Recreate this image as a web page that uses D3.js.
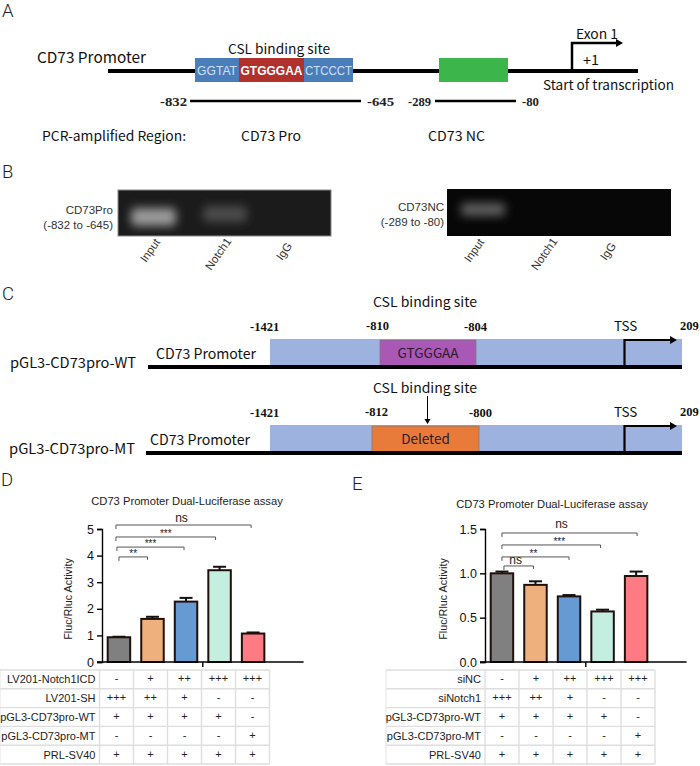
<!DOCTYPE html>
<html><head><meta charset="utf-8">
<script src="https://cdnjs.cloudflare.com/ajax/libs/d3/7.8.5/d3.min.js"></script>
<style>html,body{margin:0;padding:0;background:#fff}svg{display:block}</style></head>
<body><svg id="c" width="700" height="766"></svg>
<script>
// ---- data ----
const groups = ["G1","G2","G3","G4","G5",""];
const barColors = ["#808080","#eeb07c","#669ad2","#c3eee0","#ff7b84"];
const dValues = [0.93,1.62,2.27,3.45,1.07];
const dErrors = [0.02,0.08,0.14,0.13,0.04];
const eValues = [1.0,0.87,0.74,0.57,0.97];
const eErrors = [0.02,0.04,0.015,0.02,0.05];
const dTicks = [0,1,2,3,4,5];
const eTicks = [0,0.5,1.0,1.5];
const dBrackets = [[0,4,5.15,"ns"],[0,3,4.7,"***"],[0,2,4.32,"***"],[0,1,3.95,"**"]];
const eBrackets = [[0,4,1.455,"ns"],[0,3,1.32,"***"],[0,2,1.185,"**"],[0,1,1.083,"ns"]];
const dRows = ["LV201-Notch1ICD","LV201-SH","pGL3-CD73pro-WT","pGL3-CD73pro-MT","PRL-SV40"];
const eRows = ["siNC","siNotch1","pGL3-CD73pro-WT","pGL3-CD73pro-MT","PRL-SV40"];
const tableMarks = [["-","+","++","+++","+++"],["+++","++","+","-","-"],["+","+","+","+","-"],["-","-","-","-","+"],["+","+","+","+","+"]];
const gelLanes = ["Input","Notch1","IgG"];

const svg = d3.select("#c");
const SANS="'Liberation Sans',Arial,sans-serif", CJK="'Noto Sans CJK SC','Noto Sans',sans-serif", SERIF="'Liberation Serif',serif";
function T(x,y,s,o={}){
  const t=svg.append("text").attr("x",x).attr("y",y).text(s)
   .attr("font-family",o.f||CJK).attr("font-size",o.s||13).attr("fill",o.c||"#111")
   .attr("text-anchor",o.a||"start").attr("font-weight",o.w||400);
  if(o.l) t.attr("textLength",o.l).attr("lengthAdjust","spacingAndGlyphs");
  if(o.r) t.attr("transform",`rotate(${o.r} ${x} ${y})`);
  return t;
}
function R(x,y,w,h,fill,o={}){
  return svg.append("rect").attr("x",x).attr("y",y).attr("width",w).attr("height",h).attr("fill",fill)
    .attr("stroke",o.st||"none").attr("stroke-width",o.sw||0);
}
function L(x1,y1,x2,y2,c="#000",w=1){
  return svg.append("line").attr("x1",x1).attr("y1",y1).attr("x2",x2).attr("y2",y2).attr("stroke",c).attr("stroke-width",w);
}
function arrowPath(x,y0,y1,x2,w){
  svg.append("path").attr("d",`M${x},${y0}V${y1}H${x2-6}`).attr("fill","none").attr("stroke","#000").attr("stroke-width",w);
  svg.append("path").attr("d",`M${x2-7},${y1-4}L${x2},${y1}L${x2-7},${y1+4}Z`).attr("fill","#000");
}
// panel letters
[["A",2,17],["B",2,178],["C",2,300],["D",1,486],["E",352,490]].forEach(d=>
  T(d[1],d[2],d[0],{f:"Roboto,sans-serif",s:18.5,w:300,c:"#222"}));

// ---- Panel A ----
L(108,71,638,71,"#000",4);
R(195,58,158,24,"#4a7ebb");
R(239,58,65,24,"#b0302c");
R(439,58,69,24,"#3cb64a");
T(197,75,"GGTAT",{f:SANS,s:13.5,c:"#cfe0f5",l:40});
T(240.5,75,"GTGGGAA",{f:SANS,s:13.5,c:"#fff",w:700,l:62});
T(305,75,"CTCCCT",{f:SANS,s:13.5,c:"#cfe0f5",l:47});
T(37,63,"CD73 Promoter",{s:15,l:109});
T(228,54,"CSL binding site",{s:13.5,l:102});
arrowPath(572,71,43,623,2.5);
T(576,39,"Exon 1",{s:13.5,l:42});
T(583,65,"+1",{s:13.5,l:16});
T(543,90,"Start of transcription",{s:13.5,l:131});
L(190,101,361,101,"#000",2.5);
L(435,101,516,101,"#000",2.5);
[["-832",160,27],["-645",367,27],["-289",408,23],["-80",522,17]].forEach(d=>T(d[1],106,d[0],{f:SERIF,s:12.5,w:700,l:d[2],c:"#222"}));
T(42,141,"PCR-amplified Region:",{s:13.5,l:144});
T(241,141,"CD73 Pro",{s:13.5,l:60});
T(428,141,"CD73 NC",{s:13.5,l:57});

// ---- Panel B ----
const defs=svg.append("defs");
defs.append("filter").attr("id","blur").attr("x","-40%").attr("y","-60%").attr("width","180%").attr("height","220%")
  .append("feGaussianBlur").attr("stdDeviation",5);
defs.append("clipPath").attr("id","g1").append("rect").attr("x",118).attr("y",190).attr("width",213).attr("height",46);
defs.append("clipPath").attr("id","g2").append("rect").attr("x",447).attr("y",189).attr("width",224).attr("height",47);
R(118,190,213,46,"#1b1b1b",{st:"#8a8a8a",sw:1});
R(447,189,224,47,"#070707");
const g1=svg.append("g").attr("clip-path","url(#g1)"), g2=svg.append("g").attr("clip-path","url(#g2)");
g1.append("rect").attr("x",131).attr("y",208).attr("width",45).attr("height",18).attr("rx",5).attr("fill","#9a9a9a").attr("filter","url(#blur)");
g1.append("rect").attr("x",203).attr("y",206).attr("width",44).attr("height",16).attr("rx",5).attr("fill","#4c4c4c").attr("filter","url(#blur)");
g2.append("rect").attr("x",461).attr("y",203).attr("width",44).attr("height",13).attr("rx",4).attr("fill","#5e5e5e").attr("filter","url(#blur)");
T(113,214,"CD73Pro",{f:SANS,s:11.5,a:"end",c:"#333"});
T(113,229,"(-832 to -645)",{f:SANS,s:11.5,a:"end",c:"#333"});
T(444,211,"CD73NC",{f:SANS,s:11.5,a:"end",c:"#333"});
T(444,226,"(-289 to -80)",{f:SANS,s:11.5,a:"end",c:"#333"});
const laneX=[[146,211,282],[470,537,606]], laneY=[263,271,261];
laneX.forEach(xs=>xs.forEach((x,i)=>T(x,laneY[i],gelLanes[i],{f:SANS,s:11.5,c:"#333",r:-55})));

// ---- Panel C ----
function construct(y,h,base,x0,labelX,boxX,boxW,boxFill,boxText,rowLabel,rowLabelX,l,r,lx,rx){
  R(270,y,412,h,"#9db2df");
  R(boxX,y+1,boxW,h-1,boxFill,{st:"#777",sw:.7});
  L(x0,base,682,base,"#000",4);
  T(boxX+boxW/2,y+19,boxText,{s:13.5,a:"middle",c:"#2a1a2a"});
  T(labelX,y+20,"CD73 Promoter",{s:14,l:100});
  T(rowLabelX,base+1,rowLabel,{s:14,l:126});
  arrowPath(624.5,base-1,y+1,677,2.2);
  T(250,y-8,"-1421",{f:SERIF,s:12.5,w:700});
  T(lx,y-9,l,{f:SERIF,s:12.5,w:700});
  T(rx,y-8,r,{f:SERIF,s:12.5,w:700});
  T(614,y-8,"TSS",{s:13.5});
  T(680,y-9,"209",{f:SERIF,s:12.5,w:700});
}
construct(339,27,367,148,156,380,96,"#a958b5","GTGGGAA","pGL3-CD73pro-WT",10,"-810","-804",366,464);
construct(425,27,453,146,150,372,107,"#e87b39","Deleted","pGL3-CD73pro-MT",9,"-812","-800",365,469);
T(373,307,"CSL binding site",{s:13.5,l:104});
T(373,393,"CSL binding site",{s:13.5,l:104});
L(427.5,396,427.5,421,"#000",1);
svg.append("path").attr("d","M424.5,419L427.5,424L430.5,419Z").attr("fill","#000");

// ---- Panels D & E ----
function panel(o){
  const g=svg.append("g");
  const x=d3.scaleBand().domain(groups).range([o.x0,o.x0+6*33.6]).paddingInner(0.33).paddingOuter(0.17);
  const y=d3.scaleLinear().domain([0,o.max]).range([662,529]);
  const c=i=>x(groups[i])+x.bandwidth()/2;
  const bars=g.append("g").selectAll("g").data(o.values).join("g");
  bars.append("line").attr("x1",(d,i)=>c(i)).attr("x2",(d,i)=>c(i))
    .attr("y1",d=>y(d)).attr("y2",(d,i)=>y(d+o.errors[i])).attr("stroke","#111").attr("stroke-width",2);
  bars.append("line").attr("x1",(d,i)=>c(i)-6.5).attr("x2",(d,i)=>c(i)+6.5)
    .attr("y1",(d,i)=>y(d+o.errors[i])).attr("y2",(d,i)=>y(d+o.errors[i])).attr("stroke","#111").attr("stroke-width",2);
  bars.append("rect").attr("x",(d,i)=>x(groups[i])).attr("width",x.bandwidth())
    .attr("y",d=>y(d)).attr("height",d=>662-y(d)).attr("fill",(d,i)=>barColors[i])
    .attr("stroke","#20100c").attr("stroke-width",2);
  const ax=g.append("g").attr("transform",`translate(${o.x0},0)`)
    .call(d3.axisLeft(y).tickValues(o.ticks).tickSize(5).tickFormat(o.fmt));
  ax.selectAll("path,line").attr("stroke","#000").attr("stroke-width",1.4);
  ax.selectAll("text").attr("font-family",SANS).attr("font-size",12.5).attr("fill","#111");
  L(o.x0-5,662,o.x0+6*33.6,662,"#000",1.4);
  L(o.x0+3*33.6,662,o.x0+3*33.6,667,"#000",1.4);
  T(o.titleX,o.titleY,"CD73 Promoter Dual-Luciferase assay",{f:SANS,s:11.2,a:"middle",c:"#222"});
  T(o.ylabX,599,"Fluc/Rluc Activity",{f:SANS,s:10.8,a:"middle",c:"#222",r:-90});
  o.brackets.forEach((b,i)=>{
    const bx=c(b[0])+o.bdx[i], ex=c(b[1])+o.bex[i], by=y(b[2]);
    g.append("path").attr("d",`M${bx},${by+4}V${by}H${ex}V${by+3}`).attr("fill","none").attr("stroke","#555").attr("stroke-width",1);
    const ns=b[3]=="ns";
    T((bx+ex)/2+o.ldx[i],by-(ns?o.nsGap[i]:0),b[3],{f:SANS,s:ns?12:10,a:"middle",c:"#222"});
  });
  // table
  const cx=d3.scaleBand().domain(d3.range(5)).range([o.tx,o.tx+170]);
  const ry=d3.scaleBand().domain(d3.range(5)).range([670,764]);
  const tg=g.append("g");
  d3.range(6).forEach(i=>{
    const yy=670+i*ry.step();
    tg.append("line").attr("x1",o.tl).attr("x2",o.tx+170).attr("y1",yy).attr("y2",yy).attr("stroke","#dedede").attr("stroke-width",1.4);
    const xx=o.tx+i*cx.step();
    tg.append("line").attr("x1",xx).attr("x2",xx).attr("y1",670).attr("y2",764).attr("stroke","#dedede").attr("stroke-width",1.4);
  });
  tg.append("line").attr("x1",o.tl).attr("x2",o.tl).attr("y1",670).attr("y2",764).attr("stroke","#e8e8e8").attr("stroke-width",1.2);
  o.rows.forEach((r,i)=>{
    T(o.tx-4,ry(i)+ry.bandwidth()/2+4,r,{f:SANS,s:11,a:"end",c:"#222"});
    tableMarks[i].forEach((m,j)=>T(cx(j)+cx.bandwidth()/2,ry(i)+ry.bandwidth()/2+3,m,{f:SANS,s:11,a:"middle",c:"#222"}));
  });
}
panel({x0:102,max:5,values:dValues,errors:dErrors,ticks:dTicks,fmt:d3.format("d"),brackets:dBrackets,rows:dRows,
  titleX:187,titleY:505,ylabX:72,tx:99.5,tl:0,bdx:[-3,-3,-2,0],bex:[-2,-4,-2,-5],ldx:[-2,0,0,0],nsGap:[3,0,0,0]});
panel({x0:485,max:1.5,values:eValues,errors:eErrors,ticks:eTicks,fmt:d3.format(".1f"),brackets:eBrackets,rows:eRows,
  titleX:552,titleY:508,ylabX:447,tx:485,tl:386,bdx:[0,0,0,2],bex:[1,-2,0,-2],ldx:[-8,8,-2,-3],nsGap:[5,0,0,2]});
</script></body></html>
